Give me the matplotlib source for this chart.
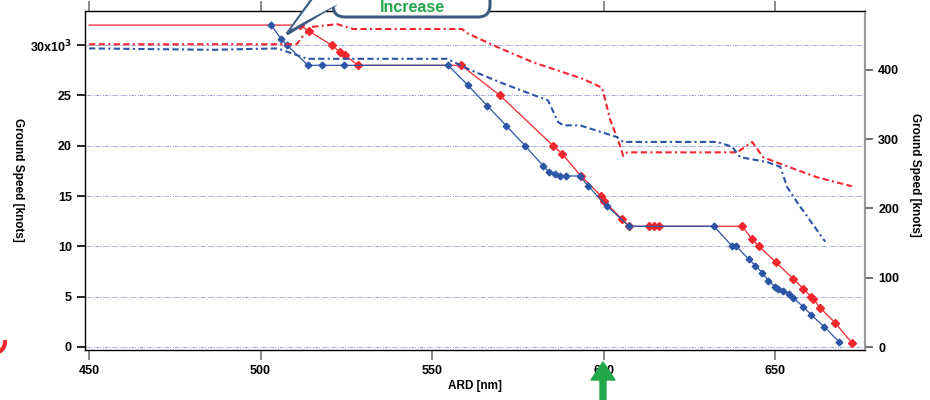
import numpy as np
import matplotlib
matplotlib.use("Agg")
import matplotlib.pyplot as plt
import matplotlib.transforms as mtransforms
from matplotlib.patches import FancyBboxPatch, Polygon, FancyArrow, Arc
from matplotlib.ticker import FuncFormatter

plt.rcParams["font.family"] = ["Liberation Sans", "DejaVu Sans"]
plt.rcParams["font.weight"] = "bold"

# altitude (x1000 ft) vs ARD, two aircraft
alt_red_ard = [450, 511.5, 514.1, 520.8, 523.2, 524.6, 528.4, 558.5, 569.8, 585.3,
               587.9, 593.4, 599.3, 600.1, 605.4, 607.4, 613.3, 614.7, 616.2, 640.4,
               643.3, 645.3, 650.3, 655.2, 658.2, 660.5, 661.1, 663.1, 667.5, 672.4]
alt_red = [32, 32, 31.4, 30.0, 29.3, 29.0, 28, 28, 25.0, 20.0,
           19.2, 17.0, 15.0, 14.5, 12.7, 12, 12, 12, 12, 12,
           10.7, 10.0, 8.4, 6.8, 5.8, 5.0, 4.8, 3.9, 2.4, 0.4]

alt_blue_ard = [503.1, 506.0, 507.7, 513.8, 517.9, 524.3, 554.7, 560.5, 566.0, 571.6,
                577.1, 582.4, 584.1, 585.9, 587.3, 589.1, 593.1, 595.5, 601.0, 607.4,
                632.2, 637.5, 638.7, 642.4, 644.2, 646.2, 648.0, 650.0, 650.9, 652.3,
                654.1, 655.2, 658.2, 660.5, 664.3, 668.7]
alt_blue = [32.0, 30.6, 30.0, 28, 28, 28, 28, 26.0, 24.0, 22.0,
            20.0, 18.0, 17.4, 17.2, 17.0, 17.0, 17.0, 16.0, 14.0, 12,
            12, 10.0, 10.0, 8.7, 8.1, 7.4, 6.6, 6.0, 5.8, 5.6,
            5.3, 4.9, 4.0, 3.2, 2.0, 0.5]

# ground speed (knots) vs ARD
gs_red_ard = [450, 510.5, 512.5, 515, 522.3, 527.0, 558.7, 560.2, 569.0, 579.4, 587.3,
              594.0, 599.6, 601.9, 604.2, 605.7, 606.9, 638.9, 643.3, 646.5, 652.3,
              662.2, 672.4]
gs_red = [437, 437, 450, 462, 466, 459, 459, 453, 433, 411, 398,
          387, 374, 328, 299, 276, 281, 281, 296, 274, 263,
          245, 232]

gs_blue_ard = [450, 486, 505, 513.6, 554.4, 561.1, 569.8, 579.4, 583.8, 586.7,
               588.2, 593.1, 603.9, 605.7, 633.1, 637.5, 639.8, 647.7, 651.5, 653.5,
               656.4, 664.6]
gs_blue = [431, 429, 431, 416, 416, 400, 382, 364, 356, 325,
           320, 320, 303, 296, 296, 289, 274, 267, 260, 231,
           209, 152]

x_ticks = [450, 500, 550, 600, 650]
alt_ticks = [0, 5, 10, 15, 20, 25, 30]
gs_ticks = [0, 100, 200, 300, 400]

RED = "#f2262e"
BLUE = "#2c55a6"
DASH = (0, (3.0, 1.6, 3.0, 1.6, 1.0, 1.6))

fig = plt.figure(figsize=(9.3, 4.0), dpi=100)
ax = fig.add_axes([85 / 930, 50 / 400, 780 / 930, 339 / 400])
ax2 = ax.twinx()

for t in alt_ticks:
    ax.axhline(t, color="#6472cc", lw=0.7, ls=(0, (1, 1, 3, 1, 1, 2)), alpha=0.7, zorder=0)

ax.plot(alt_red_ard, alt_red, color=RED, lw=0.9, marker="D", ms=3.8,
        markevery=list(range(1, len(alt_red))), zorder=3)
ax.plot(alt_blue_ard, alt_blue, color=BLUE, lw=0.9, marker="D", ms=3.4, zorder=3)
ax2.plot(gs_red_ard, gs_red, color=RED, lw=1.5, ls=DASH)
ax2.plot(gs_blue_ard, gs_blue, color=BLUE, lw=1.5, ls=DASH)

ax.set_xlim(448.8, 676.2)
ax.set_ylim(-0.3, 33.4)
ax2.set_ylim(-4.3, 485)
ax.set_xticks(x_ticks)
ax.set_yticks(alt_ticks)
ax2.set_yticks(gs_ticks)
ax.yaxis.set_major_formatter(FuncFormatter(
    lambda v, p: r"30x10$^3$" if v == 30 else f"{int(v)}"))

ax.tick_params(axis="x", direction="out", length=7, width=1.2, color="#777777",
               labelsize=9, top=True, pad=4)
ax.tick_params(axis="y", direction="out", length=6, width=1.2, labelsize=9)
ax2.tick_params(axis="y", direction="out", length=6, width=1.2, color="#555555",
                labelsize=9)
for lab in ax.get_xticklabels() + ax.get_yticklabels() + ax2.get_yticklabels():
    lab.set_fontweight("bold")

ax.spines["right"].set_color("#999999")
ax2.spines["right"].set_color("#999999")
ax.spines["right"].set_linewidth(1.5)
ax2.spines["right"].set_linewidth(1.5)
for s in ["left", "bottom", "top"]:
    ax.spines[s].set_linewidth(1.0)
    ax.spines[s].set_color("#333333")

ax.set_xlabel("ARD [nm]", fontsize=8.5, fontweight="bold", labelpad=2)
fig.text(18 / 930, 1 - 180 / 400, "Ground Speed [knots]", rotation=-90,
         fontsize=8.5, fontweight="bold", ha="center", va="center")
fig.text(915 / 930, 1 - 175 / 400, "Ground Speed [knots]", rotation=-90,
         fontsize=8.5, fontweight="bold", ha="center", va="center")

# overlay annotations in pixel coords (origin at top-left)
pix = mtransforms.Affine2D().scale(1, -1).translate(0, 400)

box = FancyBboxPatch((333, -40), 157, 57, boxstyle="round,pad=0,rounding_size=12",
                     transform=pix, facecolor="white", edgecolor="#3d5b82", lw=2.2,
                     clip_on=False, zorder=10)
fig.patches.append(box)
tail = Polygon([(313, -2), (287, 34), (336, 4)], closed=False, transform=pix,
               facecolor="white", edgecolor="#3d5b82", lw=2.2, clip_on=False, zorder=11)
fig.patches.append(tail)
cover = Polygon([(314, -2), (291, 29), (336, 5), (336, -2)], closed=True, transform=pix,
                facecolor="white", edgecolor="none", clip_on=False, zorder=12)
fig.patches.append(cover)
fig.text(412 / 930, 1 - 7.5 / 400, "Increase", color="#22a84a", fontsize=11.5,
         fontweight="bold", ha="center", va="center", zorder=13)

arrow = FancyArrow(603, 402, 0, -40, width=6, head_width=24, head_length=18,
                   length_includes_head=True, transform=pix, color="#22a84a",
                   clip_on=False, zorder=10)
fig.patches.append(arrow)

arc = Arc((-6, 342), 22, 22, theta1=-10, theta2=80, transform=pix, color=RED,
          lw=3, clip_on=False)
fig.patches.append(arc)

fig.savefig("out.png", dpi=100)
